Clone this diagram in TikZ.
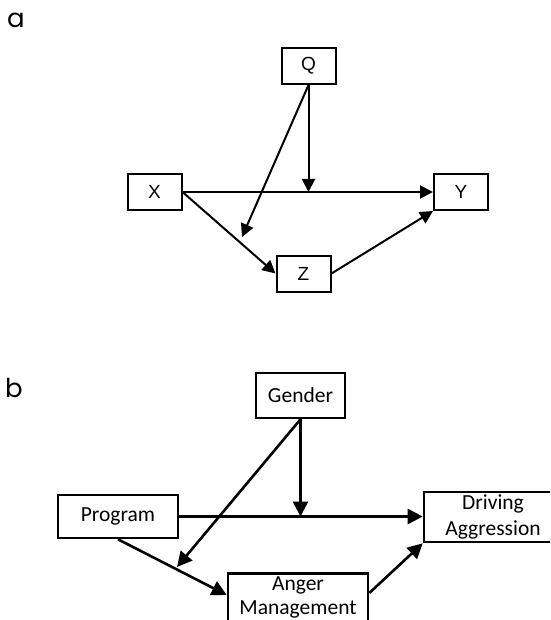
\documentclass[tikz,border=0pt]{standalone}
\usepackage{fontspec}
\usetikzlibrary{arrows.meta,calc}
\newfontfamily\panelfont{Poppins}
\newfontfamily\arialfont{Liberation Sans}
\newfontfamily\calibrifont{Carlito}
\begin{document}
\begin{tikzpicture}[x=1pt,y=-1pt,
  panellabel/.style={anchor=base west,inner sep=0,font=\panelfont\fontsize{26}{30}\selectfont},
  boxa/.style={draw,line width=2pt,minimum width=54pt,minimum height=36pt,inner sep=0,
    font=\arialfont\fontsize{19}{22}\selectfont},
  arra/.style={line width=2pt,-{Triangle[length=13pt,width=13pt]}},
  boxb/.style={draw,line width=2.6pt,inner sep=0,align=center,
    font=\calibrifont\fontsize{21.5}{25.6}\selectfont},
  arrb/.style={line width=2.6pt,-{Triangle[length=15pt,width=15pt]}}]
\useasboundingbox (0,0) rectangle (550,620);
\clip (0,0) rectangle (550,620);

% panel a: X -> Z -> Y with Q acting on both paths
\node[panellabel] (la) at (7,27.5) {a};
\node[boxa] (Q) at (308.5,66) {Q};
\node[boxa] (X) at (154.5,192) {X};
\node[boxa] (Y) at (461,192) {Y};
\node[boxa] (Z) at (303.5,273.5) {Z};
\coordinate (qtip) at (242,237);
\draw[arra] (X.east) -- (Y.west);
\draw[arra] (X.east) -- (Z.west);
\draw[arra] (Z.east) -- (Y.south west);
\draw[arra] (Q.south) -- (Q.south |- X.east);
\draw[arra] (Q.south) -- (qtip);

% panel b: Program -> Anger Management -> Driving Aggression, moderated by Gender
\node[panellabel] (lb) at (5,397) {b};
\node[boxb,minimum width=89pt,minimum height=45pt] (gender) at (300.5,395.5) {Gender};
\node[boxb,minimum width=120pt,minimum height=43pt] (program) at (118,516.5) {Program};
\node[boxb,minimum width=138pt,minimum height=50pt] (driving) at (493,517) {Driving\\Aggression};
\node[boxb,minimum width=140pt,minimum height=70pt,anchor=north] (anger) at (298,572) {};
\node[inner sep=0,anchor=north,align=center,font=\calibrifont\fontsize{21.5}{24.5}\selectfont]
  (angertext) at (298,576) {Anger\\Management};
\coordinate (gtip) at (177,567);
\draw[arrb] (program.east) -- (program.east -| driving.west);
\draw[arrb] (program.south) -- ([yshift=-23pt]anger.north west);
\draw[arrb] ([yshift=-21pt]anger.north east) -- (driving.south west);
\draw[arrb] (gender.south) -- (gender.south |- program.east);
\draw[arrb] (gender.south) -- (gtip);
\end{tikzpicture}
\end{document}
